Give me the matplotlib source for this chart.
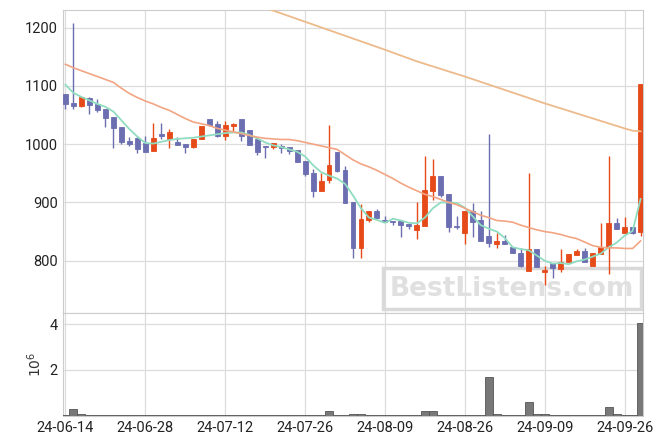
import matplotlib.pyplot as plt
from matplotlib.patches import Rectangle

plt.rcParams['font.family'] = ['Roboto', 'DejaVu Sans']

# 거래일 라벨 (x축 눈금)
tick_pos = [0, 10, 20, 30, 40, 50, 60, 70]
tick_labels = ['24-06-14', '24-06-28', '24-07-12', '24-07-26',
               '24-08-09', '24-08-26', '24-09-09', '24-09-26']

opens = [1086, 1070, 1065, 1080, 1069, 1060, 1046, 1029, 1006, 1011,
         1002, 988, 1017, 1009, 1003, 1000, 995, 1008, 1043, 1034,
         1014, 1031, 1043, 1024, 1009, 997, 995, 997, 995, 990,
         971, 950, 920, 939, 986, 955, 901, 822, 870, 885,
         869, 868, 868, 863, 853, 860, 920, 945, 914, 860,
         848, 885, 869, 842, 829, 834, 824, 814, 783, 820,
         781, 796, 786, 797, 810, 817, 791, 812, 823, 864,
         848, 857, 849]
highs = [1086, 1207, 1082, 1081, 1077, 1061, 1046, 1029, 1013, 1012,
         1014, 1037, 1036, 1026, 1013, 1000, 1009, 1031, 1043, 1039,
         1039, 1036, 1043, 1024, 1009, 997, 1002, 1001, 995, 990,
         971, 958, 950, 1033, 986, 962, 901, 897, 885, 889,
         877, 868, 868, 863, 900, 979, 974, 945, 914, 876,
         885, 899, 886, 1018, 848, 844, 824, 821, 950, 820,
         791, 796, 820, 811, 820, 821, 813, 864, 979, 873,
         875, 857, 1104]
lows = [1061, 1060, 1064, 1051, 1056, 1030, 994, 1000, 997, 985,
        987, 988, 1009, 993, 999, 984, 993, 1008, 1031, 1012,
        1007, 1020, 1006, 999, 982, 977, 992, 984, 983, 970,
        945, 909, 920, 934, 953, 899, 804, 804, 866, 874,
        866, 862, 841, 854, 837, 860, 904, 910, 850, 855,
        829, 841, 834, 823, 821, 829, 813, 790, 783, 790,
        758, 770, 780, 796, 809, 798, 791, 811, 778, 854,
        848, 846, 842]
closes = [1069, 1066, 1081, 1067, 1059, 1045, 1028, 1004, 1000, 992,
          987, 1010, 1014, 1021, 999, 995, 1009, 1031, 1033, 1014,
          1033, 1035, 1014, 999, 987, 995, 1002, 994, 988, 970,
          949, 920, 937, 964, 954, 899, 822, 872, 885, 874,
          867, 866, 862, 860, 861, 921, 945, 913, 858, 858,
          885, 867, 834, 830, 834, 829, 814, 791, 820, 790,
          784, 788, 797, 811, 816, 798, 813, 824, 865, 854,
          857, 848, 1104]
volumes = [0.01, 0.27, 0.05, 0.01, 0.01, 0.04, 0.04, 0.04, 0.01, 0.01,
           0.04, 0.01, 0.01, 0.01, 0.01, 0.01, 0.01, 0.01, 0.01, 0.04,
           0.01, 0.01, 0.04, 0.01, 0.01, 0.01, 0.04, 0.01, 0.01, 0.04,
           0.04, 0.01, 0.01, 0.19, 0.01, 0.04, 0.07, 0.07, 0.01, 0.01,
           0.01, 0.01, 0.01, 0.01, 0.01, 0.18, 0.18, 0.01, 0.04, 0.01,
           0.04, 0.01, 0.04, 1.69, 0.07, 0.04, 0.04, 0.04, 0.59, 0.07,
           0.07, 0.01, 0.01, 0.01, 0.01, 0.01, 0.04, 0.04, 0.37, 0.07,
           0.01, 0.01, 4.07]  # 단위: 백만

ma5 = [1102, 1088, 1081, 1075, 1069, 1064, 1056, 1041, 1026, 1013,
       1002, 1001, 1004, 1007, 1009, 1010, 1011, 1013, 1015, 1017,
       1019, 1020, 1020, 1016, 1010, 1003, 998, 995, 991, 987,
       979, 964, 952, 946, 941, 932, 912, 890, 874, 870,
       865, 872, 869, 865, 864, 874, 890, 900, 900, 899,
       891, 876, 861, 855, 850, 839, 823, 820, 818, 809,
       800, 795, 796, 794, 799, 802, 807, 812, 823, 831,
       843, 851, 906]
ma20 = [1137, 1131, 1126, 1121, 1116, 1111, 1106, 1096, 1087, 1080,
        1074, 1069, 1063, 1058, 1051, 1044, 1038, 1035, 1032, 1027,
        1024, 1021, 1018, 1015, 1012, 1010, 1009, 1008, 1008, 1006,
        1003, 1000, 997, 994, 991, 982, 973, 966, 961, 955,
        948, 941, 933, 926, 920, 914, 910, 905, 900, 896,
        890, 884, 878, 874, 869, 868, 866, 861, 857, 853,
        850, 848, 845, 841, 838, 832, 826, 823, 822, 822,
        821, 821, 834]
ma_long_x = [25, 30, 40, 44, 50, 60, 70, 71, 72]
ma_long = [1234, 1210, 1162, 1142, 1116, 1070, 1027, 1023, 1022]

up_color = '#E64A19'
down_color = '#6B6EB0'

fig = plt.figure(figsize=(6.63, 4.44), dpi=100)
ax = fig.add_axes([0.0943, 0.294, 0.8755, 0.6846])
axv = fig.add_axes([0.0943, 0.064, 0.8755, 0.230], sharex=ax)

idx = list(range(len(closes)))
colors = [up_color if c >= o else down_color for o, c in zip(opens, closes)]
bottoms = [min(o, c) for o, c in zip(opens, closes)]
heights = [abs(c - o) for o, c in zip(opens, closes)]

ax.vlines(idx, lows, highs, colors=colors, linewidth=1.0, zorder=3)
ax.bar(idx, heights, bottom=bottoms, width=0.62, color=colors,
       edgecolor=colors, linewidth=0.6, zorder=4)

ax.plot(idx, ma5, color='#90DCC0', linewidth=1.3, zorder=5)
ax.plot(idx, ma20, color='#F2A583', linewidth=1.2, zorder=5)
ax.plot(ma_long_x, ma_long, color='#EDBA8C', linewidth=1.3, zorder=5)

axv.bar(idx, volumes, width=1.0, color='#787878', edgecolor='#555555',
        linewidth=0.6, zorder=3)

# 워터마크
ax.add_patch(Rectangle((0.5777, 0.3030), 0.3890, 0.0945, transform=fig.transFigure,
                       fill=False, edgecolor='#D9D9D9', linewidth=2.5, zorder=1))
ax.text(0.7722, 0.3495, 'BestListens.com', transform=fig.transFigure,
        ha='center', va='center', fontsize=19, fontweight='bold',
        color='#E0E0E0', zorder=1, family=['DejaVu Sans'])

ax.set_xlim(-0.36, 72.3)
ax.set_ylim(709.5, 1231)
ax.set_yticks([800, 900, 1000, 1100, 1200])
axv.set_ylim(0, 4.48)
axv.set_yticks([2, 4])
axv.set_xticks(tick_pos)
axv.set_xticklabels(tick_labels)
axv.set_ylabel(r'$10^{6}$', fontsize=10, color='#333333')
axv.yaxis.set_label_coords(-0.032, 0.5)

for a in (ax, axv):
    a.grid(True, color='#DDDDDD', linewidth=0.9, zorder=0)
    a.set_axisbelow(True)
    for s in a.spines.values():
        s.set_color('#CCCCCC')
    a.tick_params(length=0, labelsize=10.5, labelcolor='#222222', pad=3.5)

ax.tick_params(labelbottom=False)
axv.tick_params(axis='x', pad=4)

fig.savefig('out.png', dpi=100)
